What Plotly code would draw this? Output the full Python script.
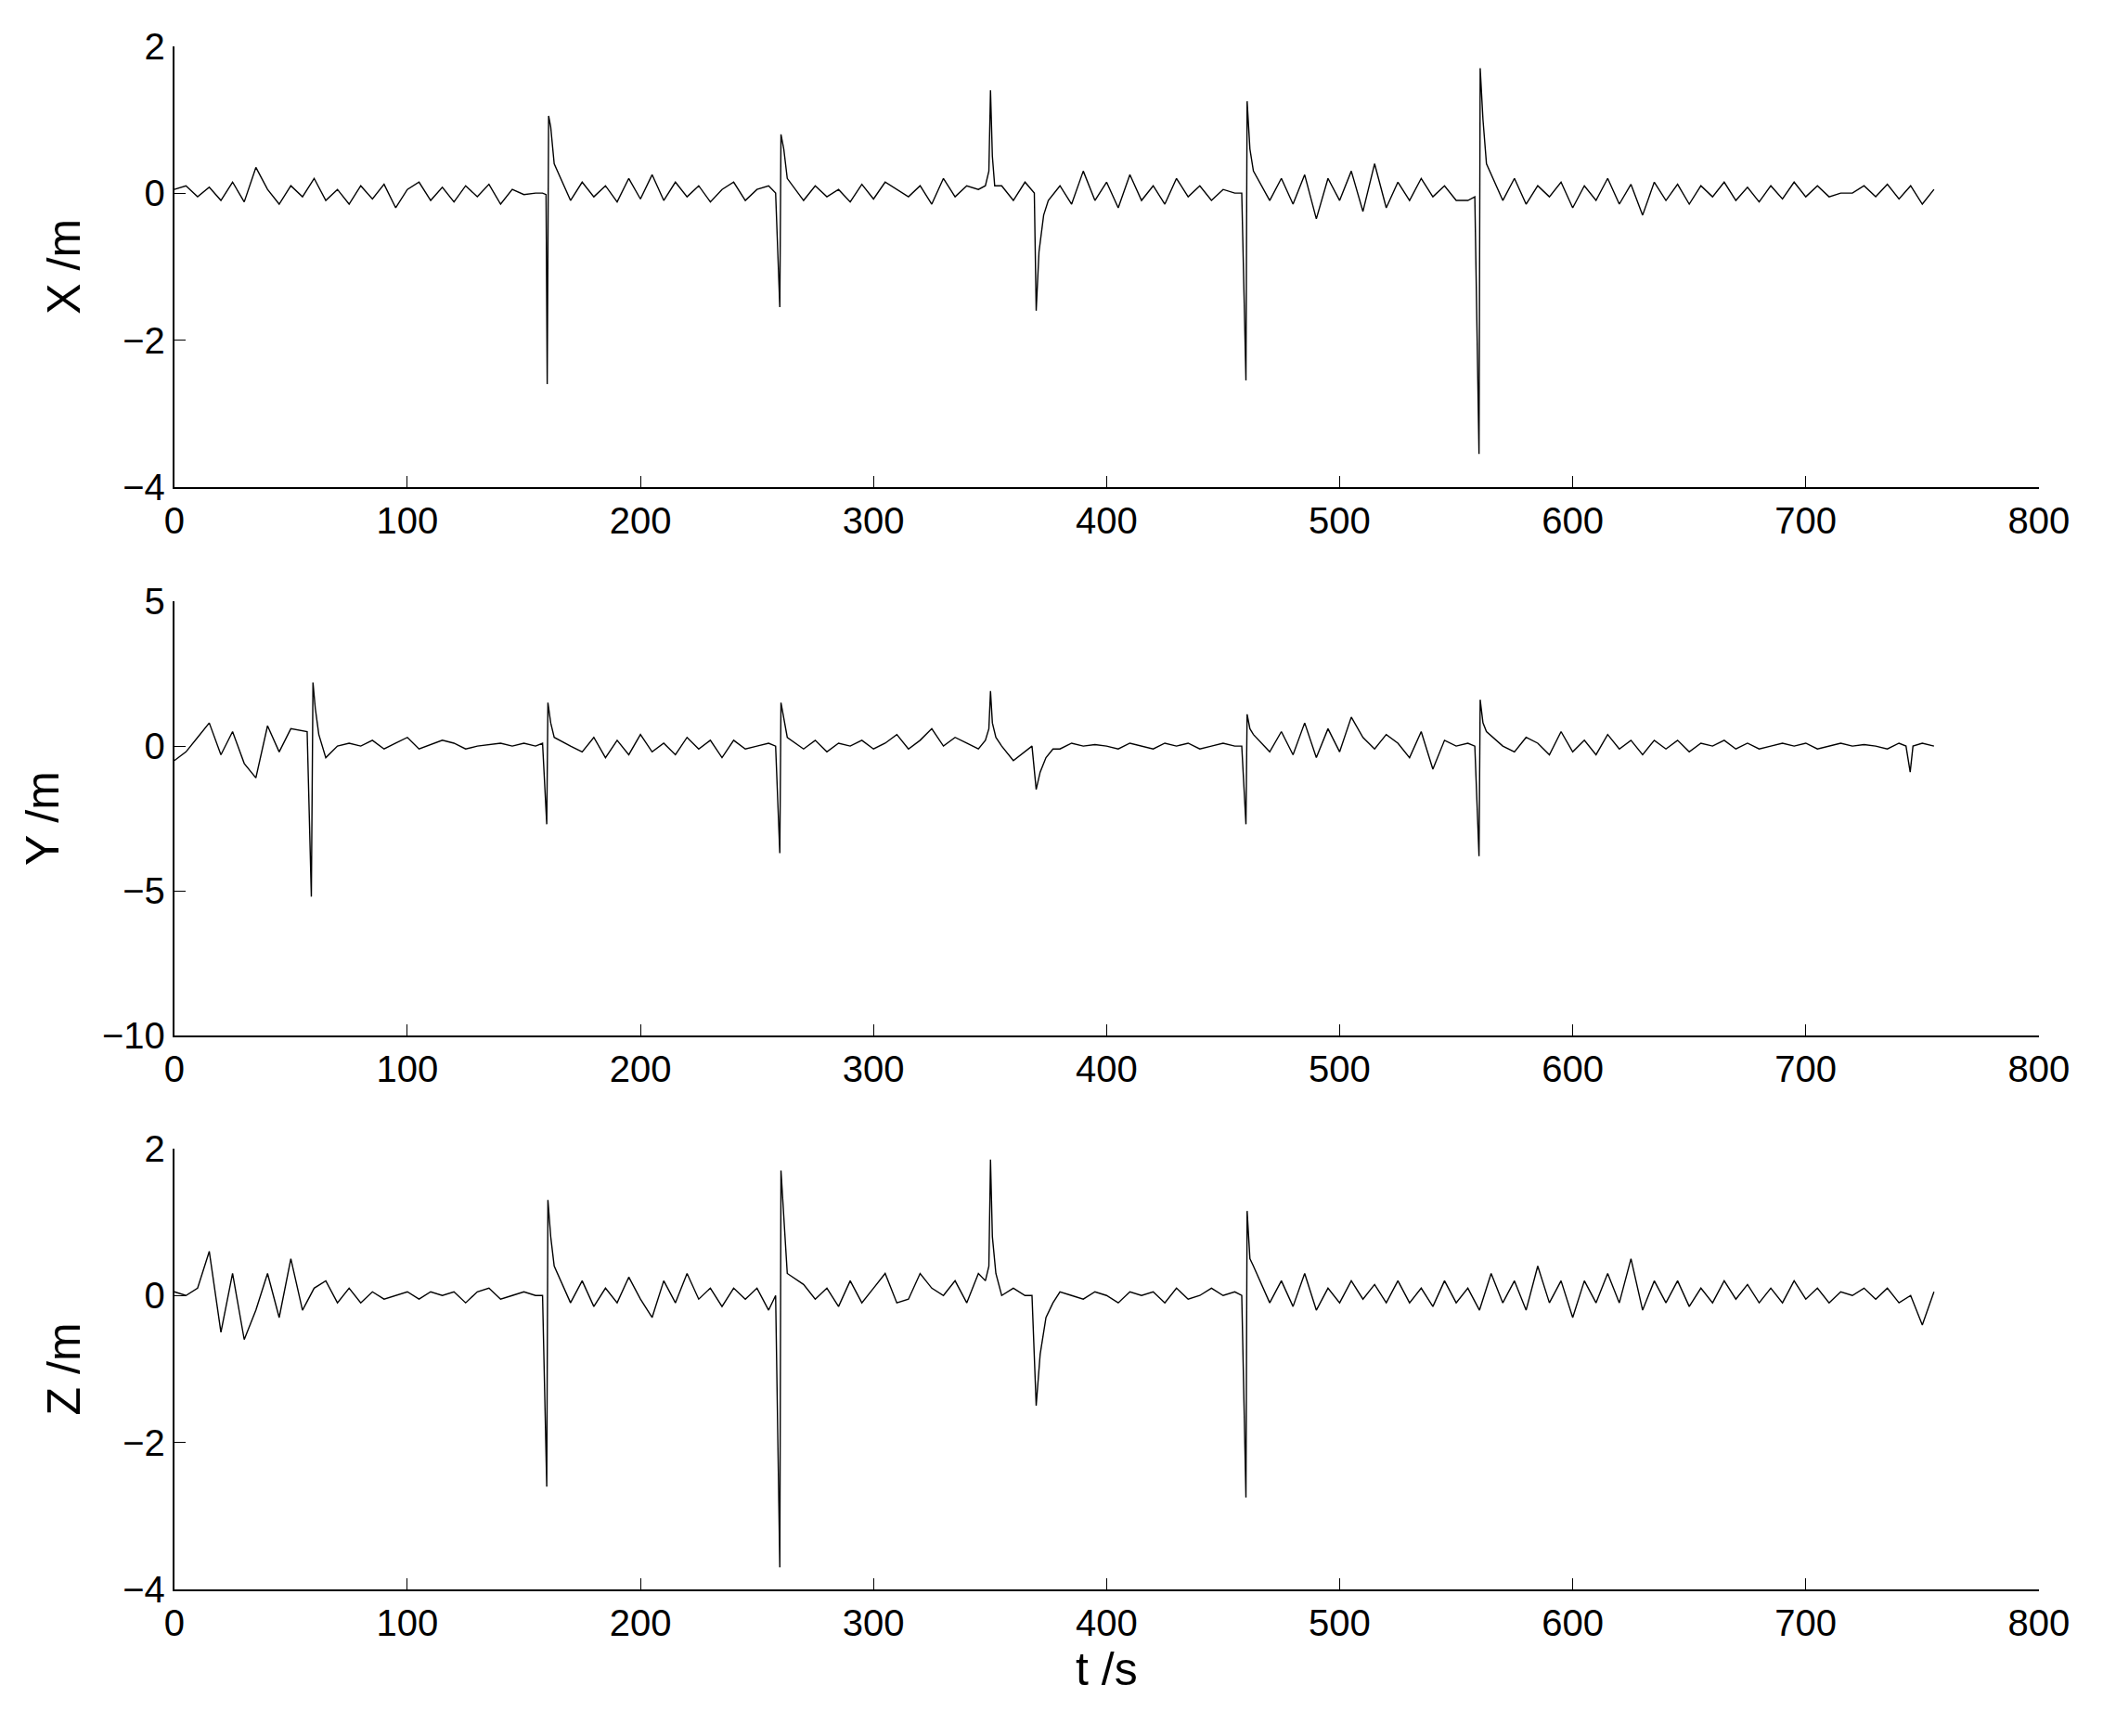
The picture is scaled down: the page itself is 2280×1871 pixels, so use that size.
import plotly.graph_objects as go

# base sampling every 5 s
t_base = list(range(0, 760, 5))

x_base = [0.05,0.1,-0.05,0.08,-0.1,0.15,-0.12,0.35,0.05,-0.15,0.1,-0.05,0.2,-0.1,0.05,-0.15,
          0.1,-0.08,0.12,-0.2,0.05,0.15,-0.1,0.08,-0.12,0.1,-0.05,0.12,-0.15,0.05,-0.02,0.0,
          0.5,0.1,-0.1,0.15,-0.05,0.1,-0.12,0.2,-0.08,0.25,-0.1,0.15,-0.05,0.1,-0.12,0.05,
          0.15,-0.1,0.05,0.1,-0.05,0.08,-0.1,0.1,-0.05,0.05,-0.12,0.12,-0.08,0.15,0.05,-0.05,
          0.1,-0.15,0.2,-0.05,0.1,0.05,-0.02,0.1,-0.1,0.15,-0.08,0.2,0.1,-0.15,0.3,-0.1,
          0.15,-0.2,0.25,-0.1,0.1,-0.15,0.2,-0.05,0.1,-0.1,0.05,0.0,0.35,0.15,-0.1,0.2,
          -0.15,0.25,-0.35,0.2,-0.1,0.3,-0.25,0.4,-0.2,0.15,-0.1,0.2,-0.05,0.1,-0.1,-0.1,
          0.3,0.15,-0.1,0.2,-0.15,0.1,-0.05,0.15,-0.2,0.1,-0.1,0.2,-0.15,0.12,-0.3,0.15,
          -0.1,0.12,-0.15,0.1,-0.05,0.15,-0.1,0.08,-0.12,0.1,-0.08,0.15,-0.05,0.1,-0.05,0.0,
          0.0,0.1,-0.05,0.12,-0.08,0.1,-0.15,0.05]
x_spike_t = [158,159.5,160,160.6,161.5,163, 258,259.8,260.3,261.5,263, 348,349.5,350.2,351,352,
             369,369.8,371,373,375, 458,459.8,460.3,461.5,463, 558,559.8,560.3,561.5,563]
x_spike_v = [0.0,-0.02,-2.6,1.05,0.9,0.4, 0.0,-1.55,0.8,0.6,0.2, 0.1,0.3,1.4,0.5,0.1,
             0.0,-1.6,-0.8,-0.3,-0.1, 0.0,-2.55,1.25,0.6,0.3, -0.05,-3.55,1.7,1.0,0.4]

y_base = [-0.5,-0.2,0.3,0.8,-0.3,0.5,-0.6,-1.1,0.7,-0.2,0.6,0.8,0.2,-0.4,0.0,0.1,
          0.0,0.2,-0.1,0.1,0.3,-0.1,0.05,0.2,0.1,-0.1,0.0,0.05,0.1,0.0,0.1,0.0,
          0.3,0.2,0.0,-0.2,0.3,-0.4,0.2,-0.3,0.4,-0.2,0.1,-0.3,0.3,-0.1,0.2,-0.4,
          0.2,-0.1,0.0,0.1,-0.2,0.3,-0.1,0.2,-0.2,0.1,0.0,0.2,-0.1,0.1,0.4,-0.1,
          0.2,0.6,0.0,0.3,0.1,-0.1,0.3,0.0,-0.5,-0.2,0.0,0.2,-0.1,0.1,0.0,0.05,
          0.0,-0.1,0.1,0.0,-0.1,0.1,0.0,0.1,-0.1,0.0,0.1,0.0,0.3,0.6,-0.2,0.5,
          -0.3,0.8,-0.4,0.6,-0.2,1.0,0.3,-0.1,0.4,0.1,-0.4,0.5,-0.8,0.2,0.0,0.1,
          0.6,0.8,0.0,-0.2,0.3,0.1,-0.3,0.5,-0.2,0.2,-0.3,0.4,-0.1,0.2,-0.3,0.2,
          -0.1,0.2,-0.2,0.1,0.0,0.2,-0.1,0.1,-0.1,0.0,0.1,0.0,0.1,-0.1,0.0,0.1,
          0.0,0.05,0.0,-0.1,0.1,0.0,0.1,0.0]
y_spike_t = [57,58.8,59.5,60.5,62, 158,159.8,160.3,161.5,163, 258,259.8,260.3,261.5,263,
             348,349.5,350.2,351,352.5, 368,369.8,371.5,374,377, 458,459.8,460.3,461.5,463,
             558,559.8,560.3,561.5,563, 743,744.8,746]
y_spike_v = [0.5,-5.2,2.2,1.3,0.4, 0.1,-2.7,1.5,0.8,0.3, 0.0,-3.7,1.5,0.9,0.3,
             0.2,0.6,1.9,0.8,0.3, 0.0,-1.5,-0.9,-0.4,-0.1, 0.0,-2.7,1.1,0.6,0.4,
             0.0,-3.8,1.6,0.8,0.5, 0.0,-0.9,0.0]

z_base = [0.05,0.0,0.1,0.6,-0.5,0.3,-0.6,-0.2,0.3,-0.3,0.5,-0.2,0.1,0.2,-0.1,0.1,
          -0.1,0.05,-0.05,0.0,0.05,-0.05,0.05,0.0,0.05,-0.1,0.05,0.1,-0.05,0.0,0.05,0.0,
          0.3,0.2,-0.1,0.2,-0.15,0.1,-0.1,0.25,-0.05,-0.3,0.2,-0.1,0.3,-0.05,0.1,-0.15,
          0.1,-0.05,0.1,-0.2,0.2,-0.1,0.15,-0.05,0.1,-0.15,0.2,-0.1,0.1,0.3,-0.1,-0.05,
          0.3,0.1,0.0,0.2,-0.1,0.3,0.2,0.0,0.1,0.0,0.05,-0.1,0.05,0.0,-0.05,0.05,
          0.0,-0.1,0.05,0.0,0.05,-0.1,0.1,-0.05,0.0,0.1,0.0,0.05,0.1,0.3,-0.1,0.2,
          -0.15,0.3,-0.2,0.1,-0.1,0.2,-0.05,0.15,-0.1,0.2,-0.1,0.1,-0.15,0.2,-0.1,0.1,
          -0.2,0.3,-0.1,0.2,-0.2,0.4,-0.1,0.2,-0.3,0.2,-0.1,0.3,-0.1,0.5,-0.2,0.2,
          -0.1,0.2,-0.15,0.1,-0.1,0.2,-0.05,0.15,-0.1,0.1,-0.1,0.2,-0.05,0.1,-0.1,0.05,
          0.0,0.1,-0.05,0.1,-0.1,0.0,-0.4,0.05]
z_spike_t = [158,159.8,160.3,161.5,163, 258,259.8,260.3,261.5,263, 348,349.5,350.2,351,352.5,
             368,369.8,371.5,374,377, 458,459.8,460.3,461.5,463]
z_spike_v = [0.0,-2.6,1.3,0.8,0.4, 0.0,-3.7,1.7,1.0,0.3, 0.2,0.4,1.85,0.8,0.3,
             0.0,-1.5,-0.8,-0.3,-0.1, 0.0,-2.75,1.15,0.5,0.4]


def merge(base, st, sv):
    pts = [(t, v) for t, v in zip(t_base, base) if min(abs(t - s) for s in st) >= 2.5]
    pts += list(zip(st, sv))
    pts.sort()
    return [p[0] for p in pts], [p[1] for p in pts]


series = [merge(x_base, x_spike_t, x_spike_v),
          merge(y_base, y_spike_t, y_spike_v),
          merge(z_base, z_spike_t, z_spike_v)]
titles = ['X /m', 'Y /m', 'Z /m']
ranges = [[-4, 2], [-10, 5], [-4, 2]]
dticks = [2, 5, 2]
domains = [[0.7291, 0.9892], [0.4055, 0.6617], [0.0788, 0.3389]]

font = 'Liberation Sans, Arial, sans-serif'
fig = go.Figure()
for i, (tt, vv) in enumerate(series):
    n = '' if i == 0 else str(i + 1)
    fig.add_trace(go.Scatter(x=tt, y=vv, mode='lines', line=dict(color='black', width=1.4),
                             xaxis='x' + n, yaxis='y' + n, showlegend=False))
    ax = dict(range=[0, 800], dtick=100, domain=[0.0755, 0.974], anchor='y' + n,
              showline=True, linecolor='black', linewidth=2, ticks='inside', ticklen=12,
              tickcolor='black', showgrid=False, zeroline=False,
              tickfont=dict(family=font, size=40, color='black'))
    if i == 2:
        ax['title'] = dict(text='t /s', font=dict(family=font, size=50, color='black'), standoff=8)
    ay = dict(range=ranges[i], dtick=dticks[i], domain=domains[i], anchor='x' + n,
              showline=True, linecolor='black', linewidth=2, ticks='inside', ticklen=12,
              tickcolor='black', showgrid=False, zeroline=False,
              tickfont=dict(family=font, size=40, color='black'),
              title=dict(text=titles[i], font=dict(family=font, size=50, color='black'), standoff=30))
    fig.update_layout({'xaxis' + n: ax, 'yaxis' + n: ay})

fig.update_layout(width=2280, height=1871, margin=dict(l=0, r=0, t=0, b=0),
                  plot_bgcolor='white', paper_bgcolor='white')
fig.write_html('out.html')
